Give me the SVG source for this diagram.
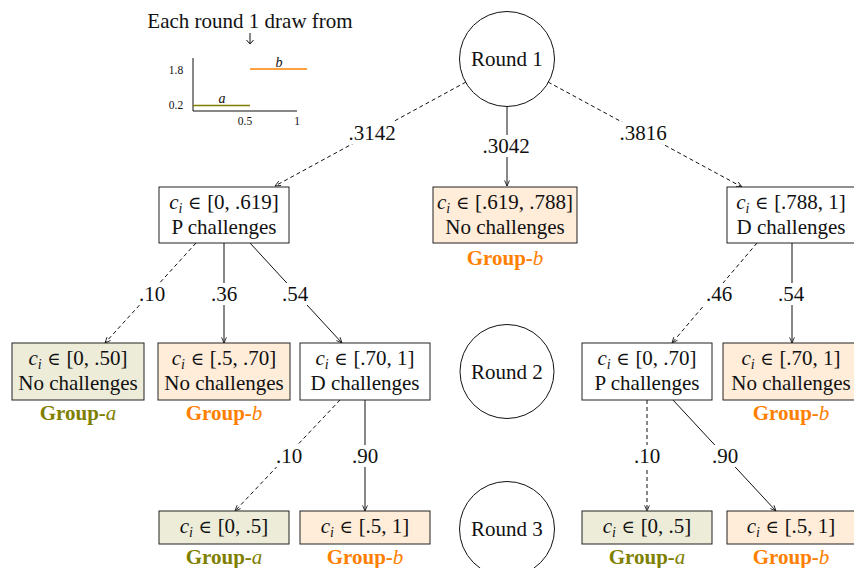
<svg xmlns="http://www.w3.org/2000/svg" width="854" height="568" viewBox="0 0 854 568">
<style>
text{font-family:"Liberation Serif","Times New Roman",serif;font-size:21px;fill:#111;text-anchor:middle}
.it{font-style:italic}
.sub{font-size:14px;font-style:italic}
.el{font-family:"DejaVu Serif",serif;font-size:18px}
.box{stroke:#222;stroke-width:1;fill:#fff}
.ga{fill:#ECECD9}
.gb{fill:#FFECD9}
.lga{fill:#808000;font-weight:bold}
.lgb{fill:#FF8000;font-weight:bold}
.lga tspan,.lgb tspan{font-weight:normal;font-style:italic}
.e{stroke:#111;stroke-width:1;fill:none;marker-end:url(#ar)}
.d{stroke-dasharray:4 3}
.lb{fill:#fff}
.circ{fill:#fff;stroke:#111;stroke-width:1}
.sm{font-size:11.5px}
</style>
<defs>
<marker id="ar" viewBox="0 0 10 10" refX="9" refY="5" markerWidth="7" markerHeight="7" orient="auto" markerUnits="userSpaceOnUse">
<path d="M1,1.5 L9,5 L1,8.5" fill="none" stroke="#111" stroke-width="1.2"/>
</marker>
</defs>
<rect width="854" height="568" fill="#fff"/>

<g id="inset">
<text x="250" y="28">Each round 1 draw from</text>
<line x1="250" y1="33" x2="250" y2="43" stroke="#111" stroke-width="1"/>
<path d="M246.5,40 L250,44 L253.5,40" fill="none" stroke="#111" stroke-width="1"/>
<line x1="193" y1="58" x2="193" y2="111" stroke="#111"/>
<line x1="193" y1="111" x2="297" y2="111" stroke="#111"/>
<line x1="193" y1="105.5" x2="250" y2="105.5" stroke="#808000" stroke-width="1.6"/>
<line x1="250" y1="69" x2="307" y2="69" stroke="#FF8000" stroke-width="1.6"/>
<text x="222" y="103" class="it" style="font-size:14px">a</text>
<text x="279" y="67" class="it" style="font-size:14px">b</text>
<text x="176" y="74" class="sm">1.8</text>
<text x="176" y="109" class="sm">0.2</text>
<text x="245" y="125" class="sm">0.5</text>
<text x="297" y="125" class="sm">1</text>
</g>

<g id="connectors">
<line class="e d" x1="466" y1="82" x2="275" y2="186"/>
<line class="e" x1="507" y1="106" x2="507" y2="186"/>
<line class="e d" x1="548" y1="82" x2="742" y2="187"/>
<line class="e d" x1="196" y1="243" x2="105" y2="343"/>
<line class="e" x1="224" y1="243" x2="224" y2="343"/>
<line class="e" x1="250" y1="243" x2="342" y2="343"/>
<line class="e d" x1="757" y1="243" x2="672" y2="343"/>
<line class="e" x1="792" y1="243" x2="792" y2="343"/>
<line class="e d" x1="340" y1="400" x2="235" y2="511"/>
<line class="e" x1="365" y1="400" x2="365" y2="511"/>
<line class="e d" x1="647" y1="400" x2="647" y2="511"/>
<line class="e" x1="673" y1="400" x2="776" y2="511"/>
<g id="edge-labels">
<rect class="lb" x="347" y="122" width="50" height="22"/><text x="372" y="140">.3142</text>
<rect class="lb" x="481" y="135" width="51" height="22"/><text x="506" y="153">.3042</text>
<rect class="lb" x="618" y="122" width="50" height="22"/><text x="643" y="140">.3816</text>
<rect class="lb" x="136" y="283" width="32" height="22"/><text x="152" y="301">.10</text>
<rect class="lb" x="208" y="283" width="32" height="22"/><text x="224" y="301">.36</text>
<rect class="lb" x="279" y="283" width="32" height="22"/><text x="295" y="301">.54</text>
<rect class="lb" x="703" y="283" width="32" height="22"/><text x="719" y="301">.46</text>
<rect class="lb" x="775" y="283" width="32" height="22"/><text x="791" y="301">.54</text>
<rect class="lb" x="273" y="445" width="32" height="22"/><text x="289" y="463">.10</text>
<rect class="lb" x="349" y="445" width="32" height="22"/><text x="365" y="463">.90</text>
<rect class="lb" x="631" y="445" width="32" height="22"/><text x="647" y="463">.10</text>
<rect class="lb" x="709" y="445" width="32" height="22"/><text x="725" y="463">.90</text>
</g>
</g>

<g id="round1"><circle class="circ" cx="507" cy="59" r="47.5"/><text x="507" y="66">Round 1</text></g>
<g id="round2"><circle class="circ" cx="507" cy="371.5" r="47"/><text x="507" y="379">Round 2</text></g>
<g id="round3"><circle class="circ" cx="507" cy="529" r="47.5"/><text x="507" y="536">Round 3</text></g>

<g id="n1"><rect class="box" x="159" y="187" width="130" height="56"/>
<text x="224" y="209"><tspan class="it">c</tspan><tspan class="sub" dy="4">i</tspan><tspan class="el" dy="-4"> ∈ </tspan><tspan>[0, .619]</tspan></text>
<text x="224" y="234">P challenges</text></g>

<g id="n2"><rect class="box gb" x="433" y="187" width="144" height="56"/>
<text x="505" y="209"><tspan class="it">c</tspan><tspan class="sub" dy="4">i</tspan><tspan class="el" dy="-4"> ∈ </tspan><tspan>[.619, .788]</tspan></text>
<text x="505" y="234">No challenges</text>
<text x="505" y="265" class="lgb">Group-<tspan>b</tspan></text></g>

<g id="n3"><rect class="box" x="727" y="187" width="131" height="56"/>
<text x="791" y="209"><tspan class="it">c</tspan><tspan class="sub" dy="4">i</tspan><tspan class="el" dy="-4"> ∈ </tspan><tspan>[.788, 1]</tspan></text>
<text x="791" y="234">D challenges</text></g>

<g id="n4"><rect class="box ga" x="12" y="343" width="132" height="57"/>
<text x="78" y="365"><tspan class="it">c</tspan><tspan class="sub" dy="4">i</tspan><tspan class="el" dy="-4"> ∈ </tspan><tspan>[0, .50]</tspan></text>
<text x="78" y="390">No challenges</text>
<text x="78" y="420" class="lga">Group-<tspan>a</tspan></text></g>

<g id="n5"><rect class="box gb" x="158" y="343" width="132" height="57"/>
<text x="224" y="365"><tspan class="it">c</tspan><tspan class="sub" dy="4">i</tspan><tspan class="el" dy="-4"> ∈ </tspan><tspan>[.5, .70]</tspan></text>
<text x="224" y="390">No challenges</text>
<text x="224" y="420" class="lgb">Group-<tspan>b</tspan></text></g>

<g id="n6"><rect class="box" x="300" y="343" width="130" height="57"/>
<text x="365" y="365"><tspan class="it">c</tspan><tspan class="sub" dy="4">i</tspan><tspan class="el" dy="-4"> ∈ </tspan><tspan>[.70, 1]</tspan></text>
<text x="365" y="390">D challenges</text></g>

<g id="n7"><rect class="box" x="582" y="343" width="130" height="57"/>
<text x="647" y="365"><tspan class="it">c</tspan><tspan class="sub" dy="4">i</tspan><tspan class="el" dy="-4"> ∈ </tspan><tspan>[0, .70]</tspan></text>
<text x="647" y="390">P challenges</text></g>

<g id="n8"><rect class="box gb" x="723" y="343" width="136" height="57"/>
<text x="791" y="365"><tspan class="it">c</tspan><tspan class="sub" dy="4">i</tspan><tspan class="el" dy="-4"> ∈ </tspan><tspan>[.70, 1]</tspan></text>
<text x="791" y="390">No challenges</text>
<text x="791" y="420" class="lgb">Group-<tspan>b</tspan></text></g>

<g id="n9"><rect class="box ga" x="159" y="511" width="130" height="33"/>
<text x="224" y="533"><tspan class="it">c</tspan><tspan class="sub" dy="4">i</tspan><tspan class="el" dy="-4"> ∈ </tspan><tspan>[0, .5]</tspan></text>
<text x="224" y="564" class="lga">Group-<tspan>a</tspan></text></g>

<g id="n10"><rect class="box gb" x="300" y="511" width="130" height="33"/>
<text x="365" y="533"><tspan class="it">c</tspan><tspan class="sub" dy="4">i</tspan><tspan class="el" dy="-4"> ∈ </tspan><tspan>[.5, 1]</tspan></text>
<text x="365" y="564" class="lgb">Group-<tspan>b</tspan></text></g>

<g id="n11"><rect class="box ga" x="582" y="511" width="130" height="33"/>
<text x="647" y="533"><tspan class="it">c</tspan><tspan class="sub" dy="4">i</tspan><tspan class="el" dy="-4"> ∈ </tspan><tspan>[0, .5]</tspan></text>
<text x="647" y="564" class="lga">Group-<tspan>a</tspan></text></g>

<g id="n12"><rect class="box gb" x="727" y="511" width="131" height="33"/>
<text x="791" y="533"><tspan class="it">c</tspan><tspan class="sub" dy="4">i</tspan><tspan class="el" dy="-4"> ∈ </tspan><tspan>[.5, 1]</tspan></text>
<text x="791" y="564" class="lgb">Group-<tspan>b</tspan></text></g>
</svg>
